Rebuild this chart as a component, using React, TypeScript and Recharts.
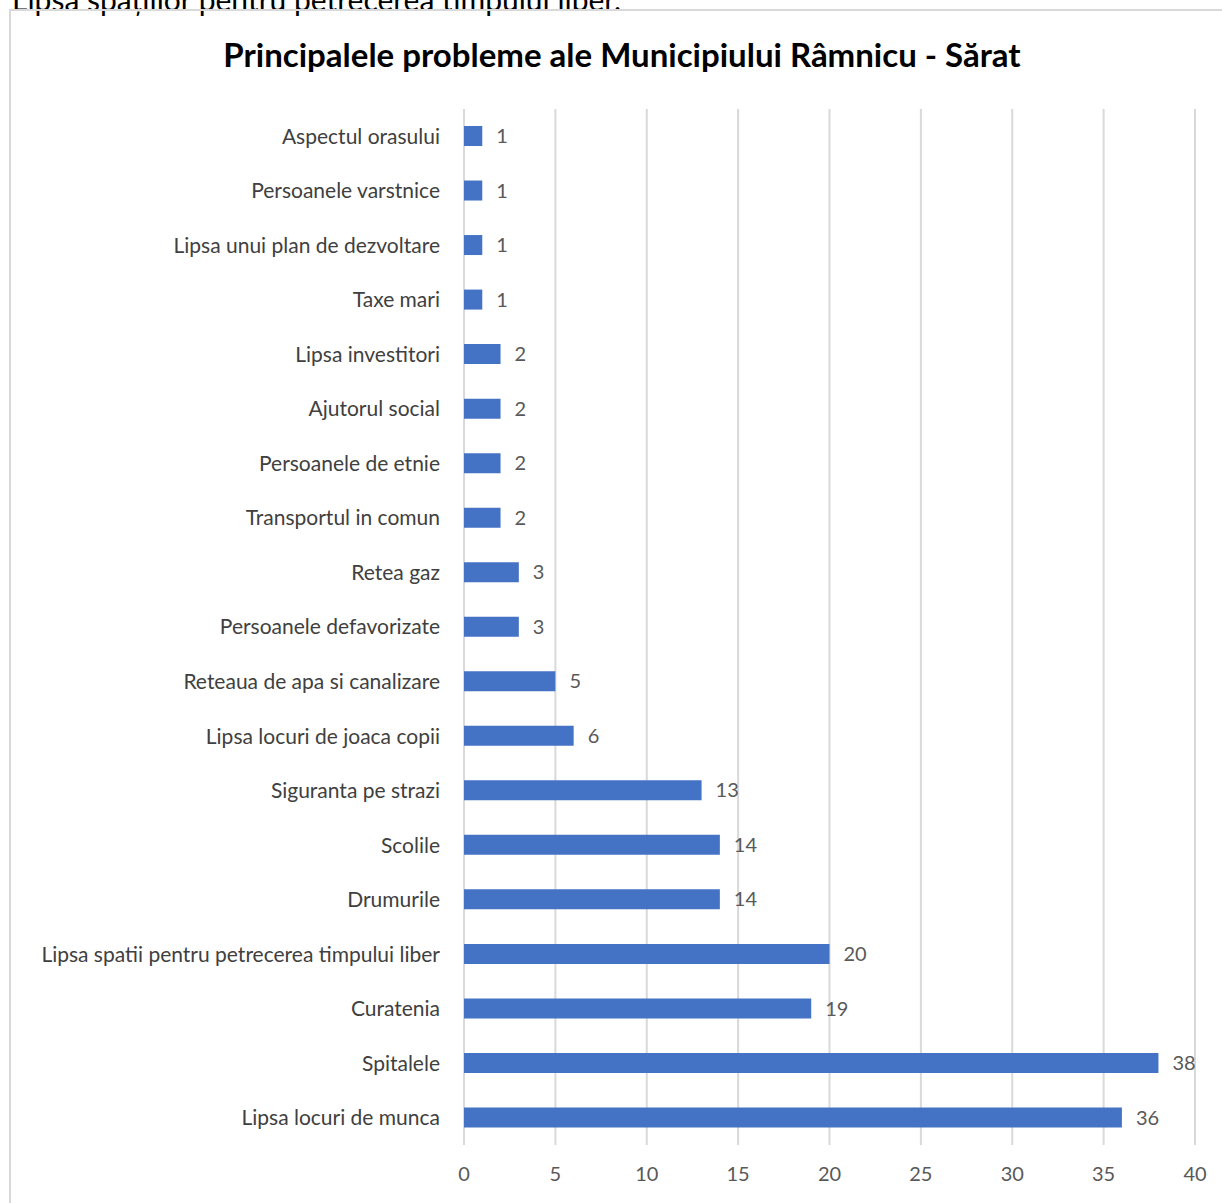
import React from 'react';
import { BarChart, Bar, XAxis, YAxis, CartesianGrid, LabelList } from 'recharts';

const problems = [
  'Aspectul orasului',
  'Persoanele varstnice',
  'Lipsa unui plan de dezvoltare',
  'Taxe mari',
  'Lipsa investitori',
  'Ajutorul social',
  'Persoanele de etnie',
  'Transportul in comun',
  'Retea gaz',
  'Persoanele defavorizate',
  'Reteaua de apa si canalizare',
  'Lipsa locuri de joaca copii',
  'Siguranta pe strazi',
  'Scolile',
  'Drumurile',
  'Lipsa spatii pentru petrecerea timpului liber',
  'Curatenia',
  'Spitalele',
  'Lipsa locuri de munca',
];
const mentions = [1, 1, 1, 1, 2, 2, 2, 2, 3, 3, 5, 6, 13, 14, 14, 20, 19, 38, 36];
const xTicks = [0, 5, 10, 15, 20, 25, 30, 35, 40];

const FONT = 'Lato, "Open Sans", sans-serif';
const BLUE = '#4472C4';

export default function App() {
  const data = problems.map((name, i) => ({ name, value: mentions[i] }));

  return (
    <div style={{ position: 'absolute', left: 0, top: 0, width: 1222, height: 1203, overflow: 'hidden', background: '#fff', fontFamily: FONT }}>
      <div style={{ position: 'absolute', left: 12, top: -16, fontSize: 30, lineHeight: '30px', color: '#000', whiteSpace: 'nowrap' }}>
        Lipsa spațiilor pentru petrecerea timpului liber.
      </div>
      <div style={{ position: 'absolute', left: 9, top: 9, width: 1240, height: 1220, border: '2px solid #d9d9d9', boxSizing: 'border-box' }} />
      <div style={{ position: 'absolute', left: 0, top: 34, width: 1244, textAlign: 'center', fontSize: 33, fontWeight: 700, color: '#000', whiteSpace: 'nowrap' }}>
        Principalele probleme ale Municipiului Râmnicu - Sărat
      </div>
      <div style={{ position: 'absolute', left: 0, top: 0 }}>
        <BarChart width={1222} height={1203} data={data} layout="vertical"
          margin={{ top: 109, right: 27, bottom: 0, left: 0 }} barSize={20}>
          <CartesianGrid horizontal={false} stroke="#d9d9d9" strokeWidth={2} />
          <XAxis type="number" domain={[0, 40]} ticks={xTicks} axisLine={false} tickLine={false}
            height={58} tickMargin={16} tick={{ fill: '#595959', fontSize: 20, fontFamily: FONT }} />
          <YAxis type="category" dataKey="name" width={464} axisLine={false} tickLine={false}
            tickMargin={18} interval={0} tick={{ fill: '#404040', fontSize: 21, fontFamily: FONT }} />
          <Bar dataKey="value" fill={BLUE} isAnimationActive={false}>
            <LabelList dataKey="value" position="right" offset={14} fill="#595959" fontSize={20} fontFamily={FONT} />
          </Bar>
        </BarChart>
      </div>
    </div>
  );
}
